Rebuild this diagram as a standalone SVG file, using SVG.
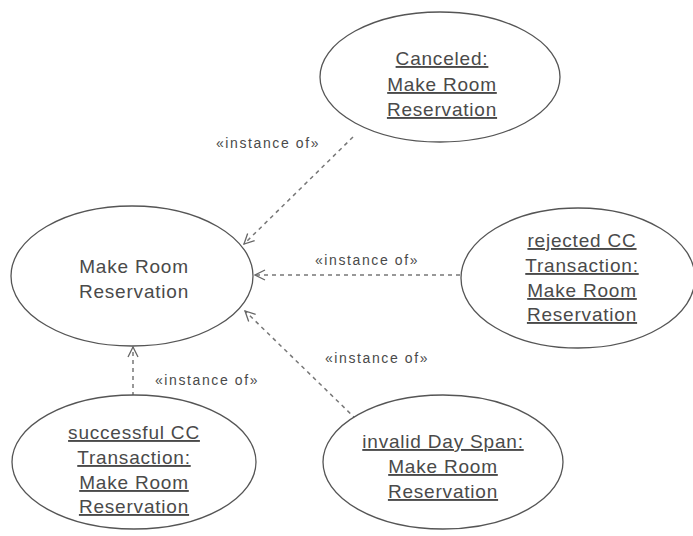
<svg xmlns="http://www.w3.org/2000/svg" width="693" height="536" viewBox="0 0 693 536">
<style>
.uc{fill:#fff;stroke:#555;stroke-width:1.3}
.t{font-family:"Liberation Sans",Arial,sans-serif;font-size:19px;letter-spacing:0.8px;fill:#4a4a4a;text-anchor:middle}
.u{text-decoration:underline}
.lbl{font-family:"Liberation Sans",Arial,sans-serif;font-size:14px;letter-spacing:1.6px;fill:#4a4a4a;text-anchor:middle}
.dep{fill:none;stroke:#777;stroke-width:1.5;stroke-dasharray:4 4}
</style>
<defs>
<marker id="arr" viewBox="0 0 12 12" refX="11" refY="6" markerWidth="12" markerHeight="12" markerUnits="userSpaceOnUse" orient="auto">
<path d="M1,1 L11,6 L1,11" fill="none" stroke="#666" stroke-width="1.3"/>
</marker>
</defs>
<rect width="693" height="536" fill="#fff"/>
<g id="connectors">
<line class="dep" x1="353" y1="137" x2="244" y2="244" marker-end="url(#arr)"/>
<line class="dep" x1="460" y1="275" x2="255" y2="275" marker-end="url(#arr)"/>
<line class="dep" x1="356" y1="419" x2="245" y2="311" marker-end="url(#arr)"/>
<line class="dep" x1="133" y1="396" x2="133" y2="347" marker-end="url(#arr)"/>
<text class="lbl" x="268" y="148">«instance of»</text>
<text class="lbl" x="367" y="265">«instance of»</text>
<text class="lbl" x="377" y="363">«instance of»</text>
<text class="lbl" x="207" y="385">«instance of»</text>
</g>
<g id="main">
<ellipse class="uc" cx="132" cy="276" rx="121" ry="70"/>
<text class="t" x="134" y="273">Make Room</text>
<text class="t" x="134" y="298">Reservation</text>
</g>
<g id="canceled">
<ellipse class="uc" cx="440" cy="77" rx="120" ry="65"/>
<text class="t u" x="442" y="65">Canceled:</text>
<text class="t u" x="442" y="91">Make Room</text>
<text class="t u" x="442" y="116">Reservation</text>
</g>
<g id="rejected">
<ellipse class="uc" cx="578" cy="278" rx="117" ry="70"/>
<text class="t u" x="582" y="247">rejected CC</text>
<text class="t u" x="582" y="272">Transaction:</text>
<text class="t u" x="582" y="297">Make Room</text>
<text class="t u" x="582" y="321">Reservation</text>
</g>
<g id="successful">
<ellipse class="uc" cx="134" cy="462" rx="122" ry="67"/>
<text class="t u" x="134" y="439">successful CC</text>
<text class="t u" x="134" y="464">Transaction:</text>
<text class="t u" x="134" y="489">Make Room</text>
<text class="t u" x="134" y="513">Reservation</text>
</g>
<g id="invalid">
<ellipse class="uc" cx="443" cy="462" rx="120" ry="67"/>
<text class="t u" x="443" y="448">invalid Day Span:</text>
<text class="t u" x="443" y="473">Make Room</text>
<text class="t u" x="443" y="498">Reservation</text>
</g>
</svg>
